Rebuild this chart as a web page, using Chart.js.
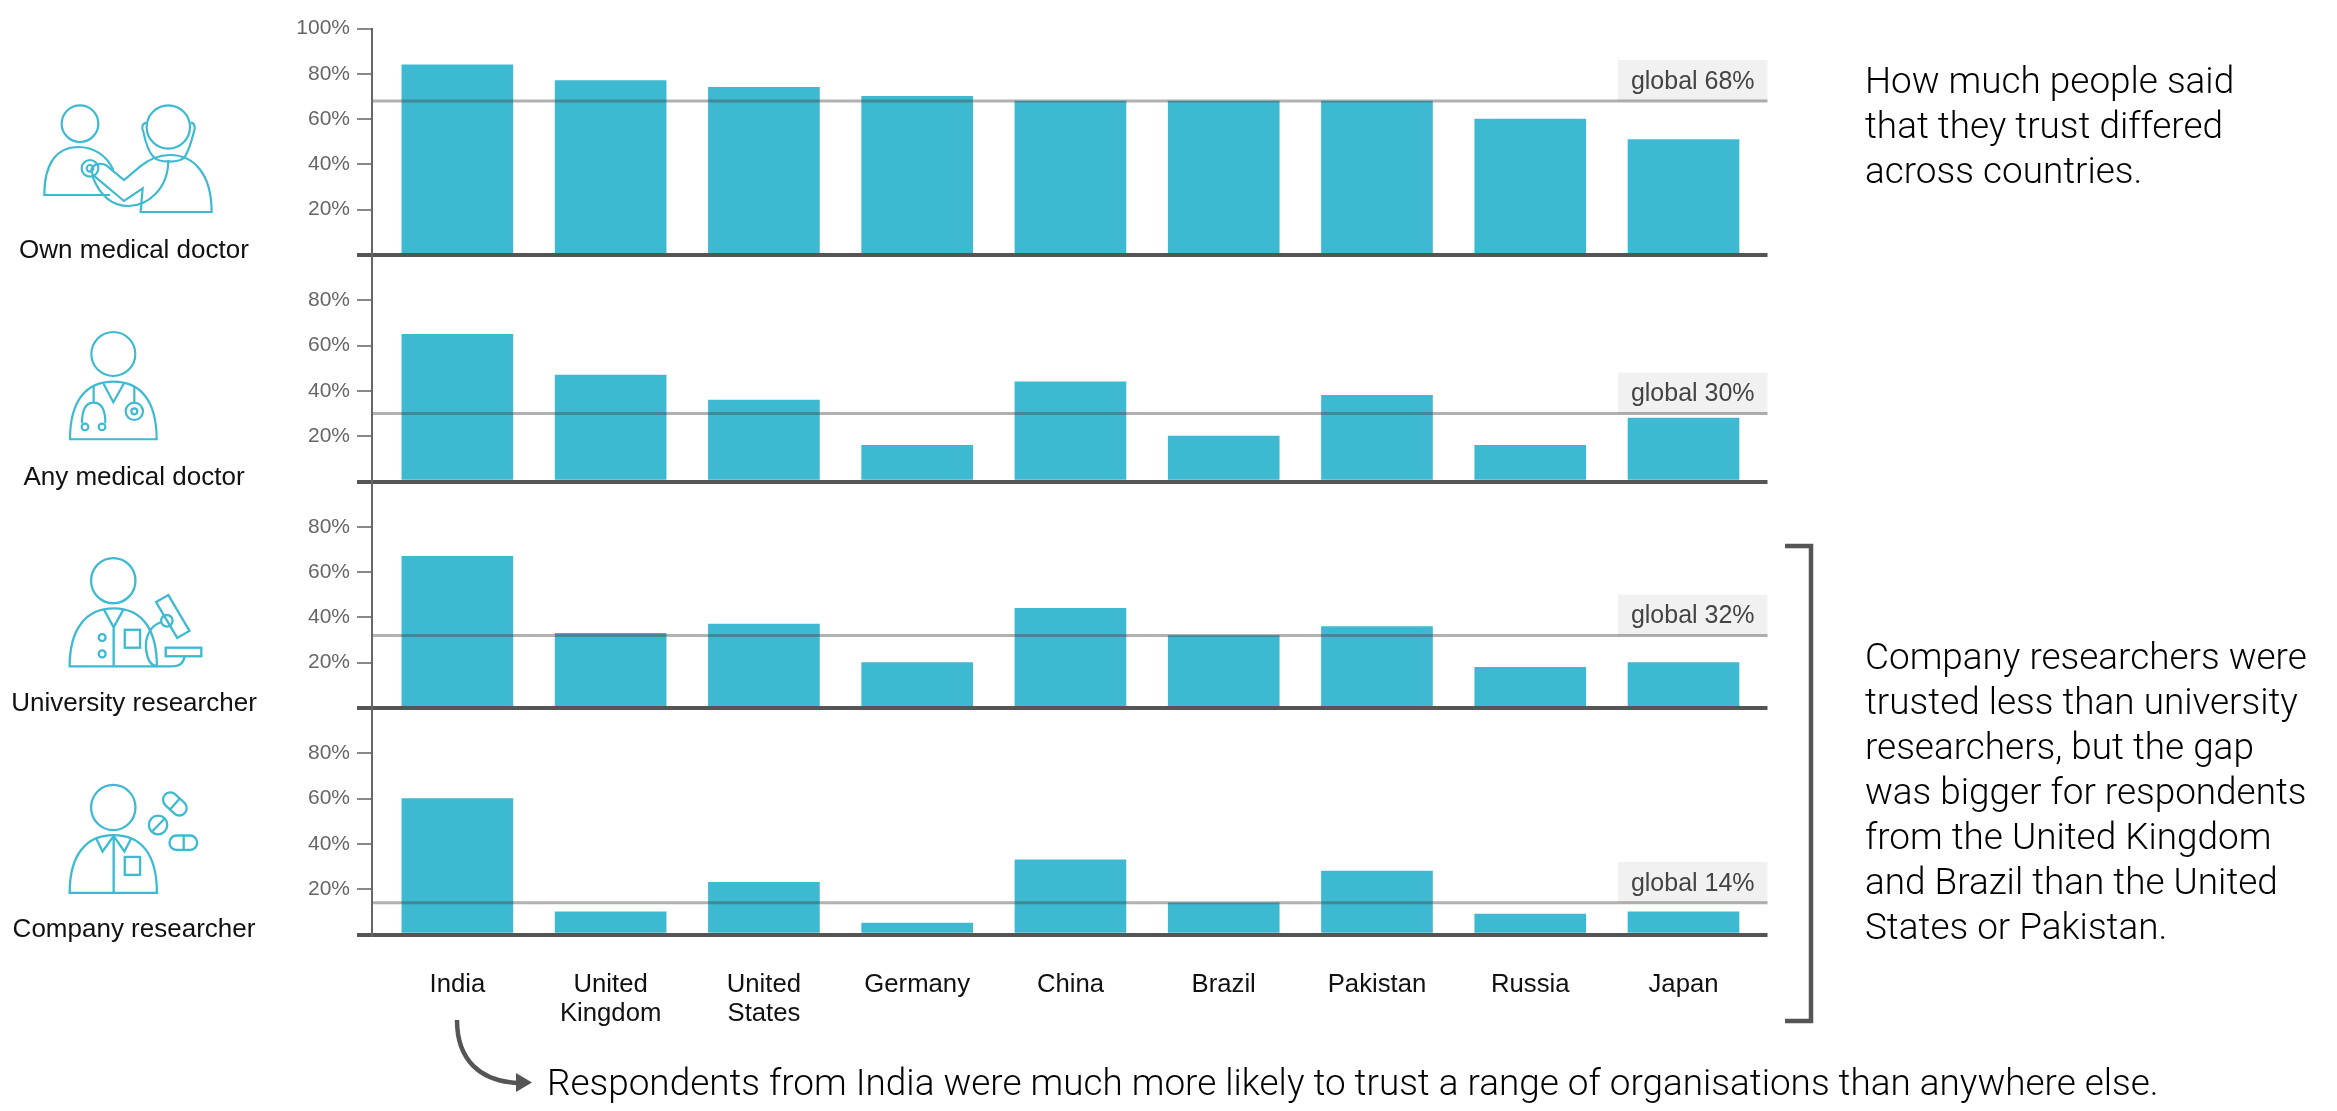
<!DOCTYPE html>
<html><head><meta charset="utf-8">
<style>
html,body{margin:0;padding:0;background:#fff;width:2337px;height:1111px;overflow:hidden}
#wrap{position:relative;width:2337px;height:1111px}
canvas{position:absolute;left:0;top:0}
svg{position:absolute;left:0;top:0}
.t{position:absolute;font-family:"Liberation Sans",sans-serif;color:#111;white-space:pre}
.role{font-size:26px;line-height:30px;text-align:center;width:300px;left:-16px}
.note{font-family:Roboto,sans-serif;font-weight:300;font-size:36.9px;line-height:45px;left:1865px;color:#000}
</style>
<script src="https://cdn.jsdelivr.net/npm/chart.js@4/dist/chart.umd.min.js"></script>
</head><body><div id="wrap">
<canvas id="c" width="2337" height="1111"></canvas>
<svg width="2337" height="1111" fill="none" stroke="#3dbad2">
<g transform="scale(0.3333)" stroke-width="6.5">
<circle cx="240" cy="371" r="55"/>
<path d="M340 510C320 465 280 441 235 441C170 441 133 490 133 585H330"/>
<circle cx="270" cy="505" r="25"/><circle cx="270" cy="505" r="10"/>
<circle cx="505" cy="381" r="65"/>
<path d="M438 368C425 372 425 385 430 395C437 430 445 455 460 470C475 490 540 490 555 470C570 445 575 420 582 395C588 380 582 368 572 368"/>
<path d="M280 500C290 488 310 490 320 497L372 540L420 500C450 475 480 465 510 465C580 465 635 520 635 636H422L428 565L372 603L285 530C272 520 272 505 280 500"/>
<path d="M505 480C505 570 440 618 385 618C340 618 300 590 278 530"/>
<circle cx="340" cy="1062" r="66"/>
<path d="M210 1318C210 1200 260 1145 340 1145C420 1145 470 1200 470 1318Z"/>
<path d="M310 1150L340 1207L372 1150M281 1155V1207M246 1270C246 1230 258 1208 281 1208C305 1208 316 1230 316 1270M403 1160V1207"/>
<circle cx="255" cy="1281" r="10"/><circle cx="306" cy="1281" r="10"/>
<circle cx="403" cy="1234" r="26"/><circle cx="403" cy="1234" r="9"/>
</g>
<g transform="translate(0,500) scale(0.3827,0.3897)" stroke-width="6">
<circle cx="296" cy="207" r="58"/>
<path d="M182 427C182 330 225 278 297 278C370 278 410 330 410 427Z"/>
<path d="M272 282L297 327L322 282M297 327V427"/>
<rect x="326" y="333" width="40" height="46"/>
<circle cx="267" cy="353" r="9"/><circle cx="267" cy="395" r="9"/>
<path d="M408 262L440 244L495 336L463 354Z"/>
<circle cx="436" cy="310" r="15"/>
<path d="M420 314C385 325 375 365 385 400C390 420 400 427 415 427H450C470 427 480 418 482 402"/>
<rect x="433" y="379" width="93" height="22"/>
<circle cx="296" cy="789" r="58"/>
<path d="M182 1008C182 910 225 860 297 860C370 860 410 910 410 1008Z"/>
<path d="M297 860V1008M252 870L268 902L297 862L325 902L342 870"/>
<rect x="326" y="916" width="40" height="46"/>
<g transform="rotate(42 457 780)"><rect x="422" y="761" width="70" height="38" rx="19"/><path d="M457 761V799"/></g>
<circle cx="413" cy="834" r="24"/><path d="M398 850L430 818"/>
<rect x="443" y="861" width="72" height="37" rx="18"/><path d="M480 861V898"/>
</g>
<path d="M1785 546H1811V1021H1785" stroke="#555" stroke-width="4.5"/>
<path d="M457 1020C457 1060 480 1082 520 1083" stroke="#555" stroke-width="4.5"/>
<path d="M516 1073L532 1082.5L516 1092Z" fill="#555" stroke="none"/>
</svg>
<div class="t role" style="top:234px">Own medical doctor</div>
<div class="t role" style="top:461px">Any medical doctor</div>
<div class="t role" style="top:687px">University researcher</div>
<div class="t role" style="top:913px">Company researcher</div>
<div class="t note" style="top:58px">How much people said
that they trust differed
across countries.</div>
<div class="t note" style="top:634px">Company researchers were
trusted less than university
researchers, but the gap
was bigger for respondents
from the United Kingdom
and Brazil than the United
States or Pakistan.</div>
<div class="t note" style="left:547px;top:1060px">Respondents from India were much more likely to trust a range of organisations than anywhere else.</div>
</div>
<script>
const countries=[["India"],["United","Kingdom"],["United","States"],["Germany"],["China"],["Brazil"],["Pakistan"],["Russia"],["Japan"]];
const ownDoctor=[84,77,74,70,68,68,68,60,51];
const anyDoctor=[65,47,36,16,44,20,38,16,28];
const universityResearcher=[67,33,37,20,44,32,36,18,20];
const companyResearcher=[60,10,23,5,33,14,28,9,10];
const globalValues=[68,30,32,14];
const topTicks=[0,20,40,60,80,100];
const otherTicks=[0,20,40,60,80];
const seriesNames=["Own medical doctor","Any medical doctor","University researcher","Company researcher"];
const seriesValues=[ownDoctor,anyDoctor,universityResearcher,companyResearcher];
const yIds=["y1","y2","y3","y4"];

const TEAL="#3dbad2";
const yScale=(i)=>({
  type:"linear",position:"left",stack:"panels",stackWeight:1,offset:false,min:0,max:100,
  afterBuildTicks(s){s.ticks=(i===0?topTicks:otherTicks).map(v=>({value:v}));},
  afterFit(s){s.width=372;},
  border:{display:true,color:"#666",width:2,z:2},
  grid:{
    z:1,drawOnChartArea:true,tickLength:15,
    color:c=>c.tick&&c.tick.value===0?"#555":"rgba(0,0,0,0)",
    tickColor:c=>c.tick&&c.tick.value===0?"#555":"#888",
    lineWidth:c=>c.tick&&c.tick.value===0?4:2
  },
  ticks:{color:"#666",padding:7,autoSkip:false,font:{family:"Liberation Sans",size:21},
    callback:v=>v===0?"":v+"%"}
});
const scales={
  x:{type:"linear",position:"bottom",offset:false,min:-0.557,max:8.548,
    afterBuildTicks(s){s.ticks=countries.map((_,k)=>({value:k}));},
    afterFit(s){s.height=176.5;},
    border:{display:false},
    grid:{display:false,drawTicks:false,offset:false},
    ticks:{color:"#111",padding:36,maxRotation:0,autoSkip:false,
      font:{family:"Liberation Sans",size:25.7,lineHeight:1.12},
      callback:v=>countries[v]}
  }
};
// chart.js lays out stacked boxes bottom-first, so the axes are declared bottom panel first
[...yIds].reverse().forEach(id=>{scales[id]=yScale(yIds.indexOf(id));});

const globalLines={
  id:"globalLines",
  afterDatasetsDraw(chart){
    const {ctx,chartArea:a}=chart;
    yIds.forEach((id,i)=>{
      const y=chart.scales[id].getPixelForValue(globalValues[i]);
      ctx.save();
      ctx.fillStyle="rgba(228,228,228,0.5)";
      ctx.fillRect(a.right-149.5,y-41,149.5,41);
      ctx.strokeStyle="rgba(70,70,70,0.42)";
      ctx.lineWidth=3;
      ctx.beginPath();ctx.moveTo(a.left,y);ctx.lineTo(a.right,y);ctx.stroke();
      ctx.fillStyle="#444";
      ctx.font='25px "Liberation Sans"';
      ctx.textAlign="center";ctx.textBaseline="middle";
      ctx.fillText("global "+globalValues[i]+"%",a.right-74.75,y-19);
      ctx.restore();
    });
  }
};

new Chart(document.getElementById("c"),{
  type:"bar",
  data:{datasets:seriesValues.map((vals,i)=>({
    label:seriesNames[i],yAxisID:yIds[i],xAxisID:"x",
    data:vals.map((v,k)=>({x:k,y:v})),
    backgroundColor:TEAL,borderWidth:0,barThickness:111,grouped:false
  }))},
  options:{
    responsive:false,animation:false,devicePixelRatio:1,
    layout:{padding:{left:0,right:569.5,top:28.5,bottom:0}},
    plugins:{legend:{display:false},tooltip:{enabled:false},title:{display:false}},
    scales
  },
  plugins:[globalLines]
});
</script>
</body></html>
